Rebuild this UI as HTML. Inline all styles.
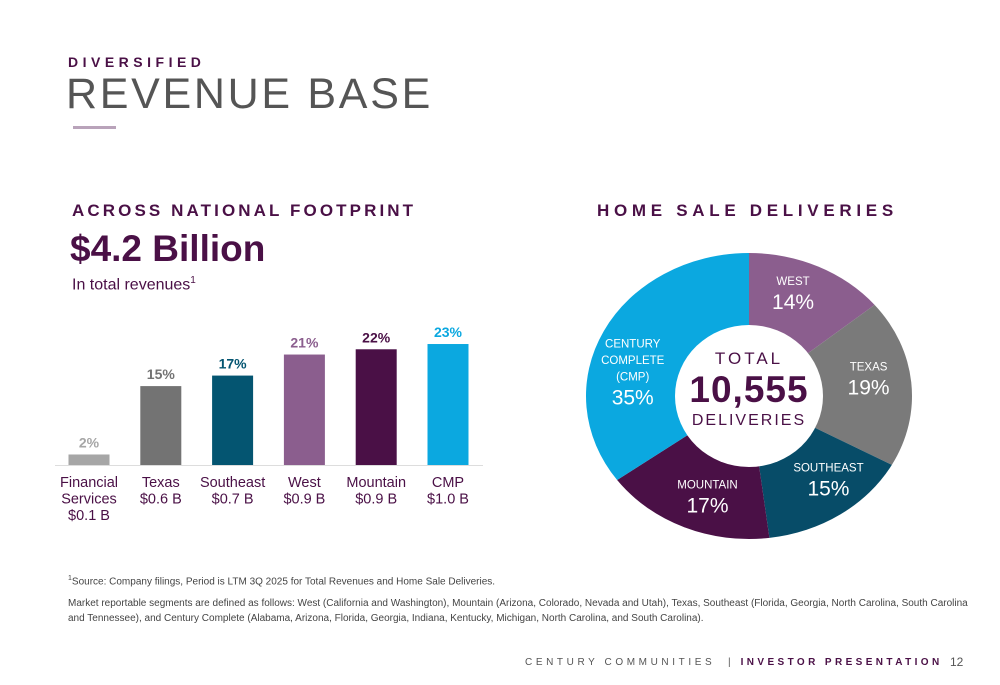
<!DOCTYPE html>
<html><head><meta charset="utf-8"><style>
body{margin:0;width:1000px;height:685px;background:#fff;font-family:"Liberation Sans",sans-serif;position:relative;overflow:hidden}
.a{position:absolute;margin:0;white-space:nowrap}
</style></head><body>
<div class="a" style="left:68px;top:54px;font-size:14px;font-weight:bold;letter-spacing:4.5px;color:#4a1046">DIVERSIFIED</div>
<div class="a" style="left:66px;top:70px;font-size:43px;letter-spacing:2.7px;color:#555">REVENUE BASE</div>
<div class="a" style="left:73px;top:126px;width:43px;height:3px;background:#b9a3ba"></div>
<div class="a" style="left:72px;top:201px;font-size:17px;font-weight:bold;letter-spacing:3.1px;color:#4a1046">ACROSS NATIONAL FOOTPRINT</div>
<div class="a" style="left:70px;top:228px;font-size:37px;font-weight:bold;color:#4a1046">$4.2 Billion</div>
<div class="a" style="left:72px;top:275px;font-size:16px;color:#4a1046">In total revenues<sup style="font-size:10px">1</sup></div>
<div class="a" style="left:597px;top:201px;font-size:17px;font-weight:bold;letter-spacing:4.7px;color:#4a1046">HOME SALE DELIVERIES</div>
<svg class="a" style="left:0;top:0" width="1000" height="685" id="chart"></svg>
<div class="a" style="left:68px;top:575px;font-size:10px;color:#444"><sup style="font-size:7px">1</sup>Source: Company filings, Period is LTM 3Q 2025 for Total Revenues and Home Sale Deliveries.</div>
<div class="a" style="left:68px;top:596px;font-size:10px;line-height:15px;color:#444;white-space:normal;width:905px">Market reportable segments are defined as follows: West (California and Washington), Mountain (Arizona, Colorado, Nevada and Utah), Texas, Southeast (Florida, Georgia, North Carolina, South Carolina and Tennessee), and Century Complete (Alabama, Arizona, Florida, Georgia, Indiana, Kentucky, Michigan, North Carolina, and South Carolina).</div>
<div class="a" style="left:525px;top:657px;font-size:10px;letter-spacing:3.6px;color:#555">CENTURY COMMUNITIES &nbsp;| <b style="color:#4a1046;letter-spacing:3.4px">INVESTOR PRESENTATION</b></div>
<div class="a" style="left:950px;top:655px;font-size:12px;color:#555">12</div>
<script>
const barCats=[["Financial","Services","$0.1 B"],["Texas","$0.6 B"],["Southeast","$0.7 B"],["West","$0.9 B"],["Mountain","$0.9 B"],["CMP","$1.0 B"]];
const barVals=[2,15,17,21,22,23];
const barColors=["#a6a6a6","#737373","#045571","#8b5e8e","#4a1046","#0ba8e0"];
const labColors=["#a6a6a6","#737373","#045571","#8b5e8e","#4a1046","#0ba8e0"];
const pieCats=["WEST","TEXAS","SOUTHEAST","MOUNTAIN","CENTURY|COMPLETE|(CMP)"];
const pieVals=[14,19,15,17,35];
const pieColors=["#8b5e8e","#7a7a7a","#074c68","#4a1046","#0ba8e0"];
const NS="http://www.w3.org/2000/svg",svg=document.getElementById('chart');
function mk(t,a,p){const e=document.createElementNS(NS,t);for(const k in a)e.setAttribute(k,a[k]);(p||svg).appendChild(e);return e;}
const base=465,x0=89,step=71.8,bw=41;
const y=v=>base-v*5.26;
const ax=mk('line',{x1:55,x2:483,y1:base+0.5,y2:base+0.5,stroke:'#ddd'});


barVals.forEach((v,i)=>{const cx=x0+i*step;
const r=mk('rect',{x:cx-bw/2,y:y(v),width:bw,height:base-y(v),fill:barColors[i]});


const t=mk('text',{x:cx,y:y(v)-7,'text-anchor':'middle','font-size':14,'font-weight':'bold',fill:labColors[i]});t.textContent=v+'%';


barCats[i].forEach((s,j)=>{const l=mk('text',{x:cx,y:487+j*16.5,'text-anchor':'middle','font-size':14.5,fill:'#4a1046'});l.textContent=s;

});});
const cx=749,cy=396,rx=163,ry=143;
const labK=[0.75,0.78,0.78,0.78,0.78];
const labDx=[-8,-7,8,9,-3];
const labDy=[-4,-5,-7,0,45];
const tot=pieVals.reduce((a,b)=>a+b,0);let acc=0;
pieVals.forEach((v,i)=>{const a0=acc/tot*2*Math.PI,a1=(acc+v)/tot*2*Math.PI;acc+=v;
const p=(a,k)=>[cx+rx*k*Math.sin(a),cy-ry*k*Math.cos(a)];
const[x1,y1]=p(a0,1),[x2,y2]=p(a1,1);
const s=mk('path',{d:`M${cx},${cy}L${x1},${y1}A${rx},${ry} 0 ${a1-a0>Math.PI?1:0} 1 ${x2},${y2}Z`,fill:pieColors[i]});


const am=(a0+a1)/2;let[lx,ly]=p(am,labK[i]);lx+=labDx[i];ly+=labDy[i];
const lines=pieCats[i].split('|');
lines.forEach((s2,j)=>{const t=mk('text',{x:lx,y:ly-10-(lines.length-1-j)*16.5,'text-anchor':'middle','font-size':11.5,fill:'#fff'});t.textContent=s2;

});
const pv=mk('text',{x:lx,y:ly+14,'text-anchor':'middle','font-size':21,fill:'#fff'});pv.textContent=v+'%';

});
const hole=mk('ellipse',{cx:cx,cy:cy,rx:74,ry:71,fill:'#fff'});


[["TOTAL",364,17,'normal',3],["10,555",402,37,'bold',1],["DELIVERIES",425,16,'normal',2]].forEach(d=>{const t=mk('text',{x:cx,y:d[1],'text-anchor':'middle','font-size':d[2],'font-weight':d[3],'letter-spacing':d[4],fill:'#4a1046'});t.textContent=d[0];

});
</script>
</body></html>
